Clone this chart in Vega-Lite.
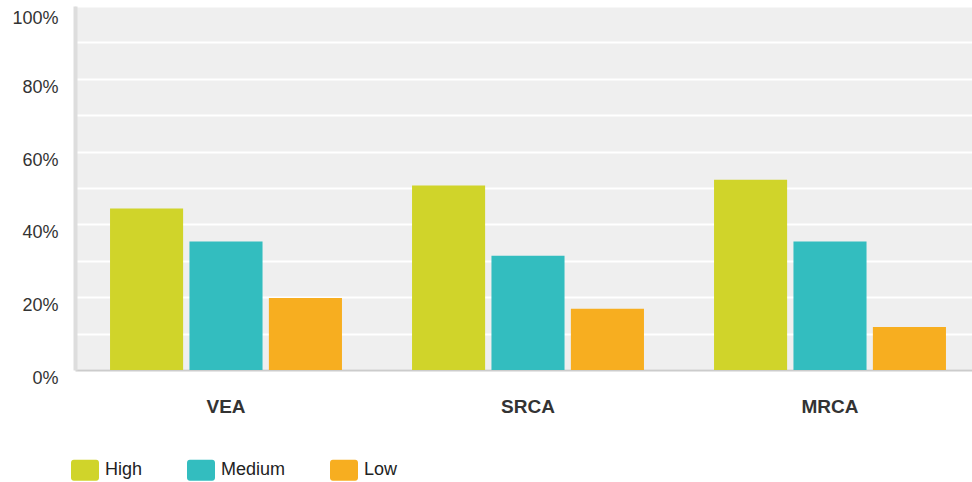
{
  "$schema": "https://vega.github.io/schema/vega-lite/v6.json",
  "autosize": "none",
  "width": 906,
  "height": 364,
  "padding": {"left": 75, "top": 6, "right": 0, "bottom": 112},
  "background": "#ffffff",
  "config": {
    "view": {"fill": "#efefef", "stroke": null},
    "font": "Liberation Sans"
  },
  "data": {
    "values": [
      {"group": "VEA", "level": "High", "value": 0.444},
      {"group": "VEA", "level": "Medium", "value": 0.353},
      {"group": "VEA", "level": "Low", "value": 0.198},
      {"group": "SRCA", "level": "High", "value": 0.507},
      {"group": "SRCA", "level": "Medium", "value": 0.314},
      {"group": "SRCA", "level": "Low", "value": 0.168},
      {"group": "MRCA", "level": "High", "value": 0.523},
      {"group": "MRCA", "level": "Medium", "value": 0.353},
      {"group": "MRCA", "level": "Low", "value": 0.118}
    ]
  },
  "mark": {"type": "bar"},
  "encoding": {
    "x": {
      "field": "group",
      "type": "nominal",
      "sort": ["VEA", "SRCA", "MRCA"],
      "scale": {"paddingInner": 0.232, "paddingOuter": 0.116},
      "axis": {
        "title": null,
        "ticks": false,
        "labelAngle": 0,
        "labelPadding": 27,
        "labelFontSize": 19,
        "labelFontWeight": "bold",
        "labelColor": "#333333",
        "domainColor": "#cccccc",
        "domainWidth": 2,
        "grid": false
      }
    },
    "xOffset": {
      "field": "level",
      "type": "nominal",
      "sort": ["High", "Medium", "Low"],
      "scale": {"paddingInner": 0.08, "paddingOuter": 0}
    },
    "y": {
      "field": "value",
      "type": "quantitative",
      "scale": {"domain": [0, 1], "nice": false},
      "axis": {
        "title": null,
        "values": [0, 0.1, 0.2, 0.3, 0.4, 0.5, 0.6, 0.7, 0.8, 0.9, 1],
        "labelExpr": "round(datum.value * 10) % 2 == 0 ? format(datum.value, '.0%') : ''",
        "ticks": false,
        "labelPadding": 17,
        "labelOffset": {"condition": {"test": "datum.value >= 0.99", "value": 12}, "value": 8.5},
        "labelFontSize": 18,
        "labelColor": "#333333",
        "domainColor": "#dddddd",
        "domainWidth": 4,
        "gridColor": "#ffffff",
        "gridWidth": 2,
        "gridOpacity": 1
      }
    },
    "color": {
      "field": "level",
      "type": "nominal",
      "sort": ["High", "Medium", "Low"],
      "scale": {"domain": ["High", "Medium", "Low"], "range": ["#d0d42a", "#33bdbf", "#f7ae20"]},
      "legend": {
        "title": null,
        "orient": "none",
        "legendX": -4,
        "legendY": 450,
        "direction": "horizontal",
        "columnPadding": 43,
        "symbolType": "M-0.8,-0.75 H0.8 A0.2,0.2 0 0 1 1,-0.55 V0.55 A0.2,0.2 0 0 1 0.8,0.75 H-0.8 A0.2,0.2 0 0 1 -1,0.55 V-0.55 A0.2,0.2 0 0 1 -0.8,-0.75 Z",
        "symbolSize": 784,
        "symbolStrokeWidth": 0,
        "symbolOpacity": 1,
        "labelFontSize": 18,
        "labelColor": "#222222",
        "labelOffset": 6
      }
    }
  }
}
